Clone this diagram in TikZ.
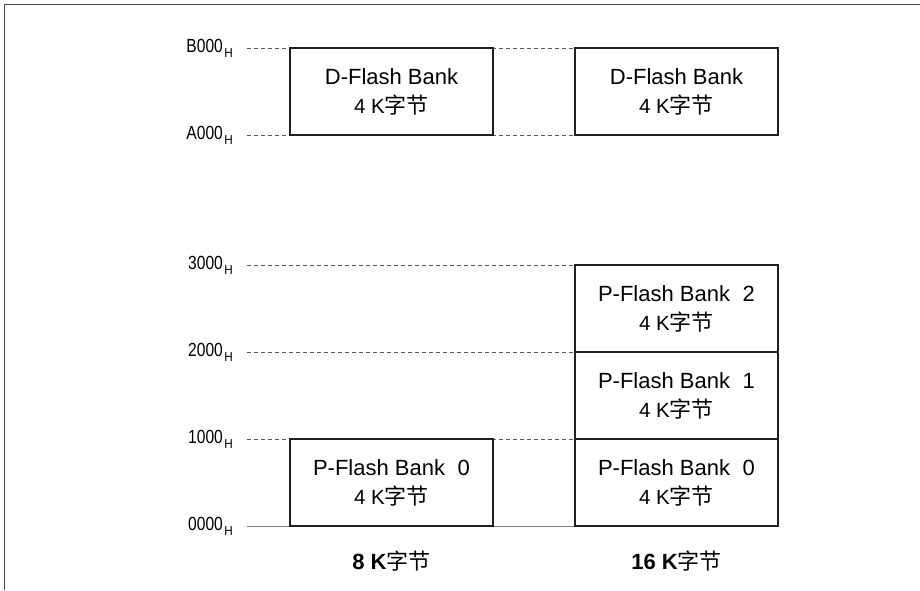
\documentclass[tikz,border=0pt]{standalone}
\usepackage{fontspec}
\setmainfont{Liberation Sans}
\newfontfamily\cjk{Noto Sans CJK SC}
\newcommand{\kzj}[1]{{\cjk\mdseries\fontsize{#1}{#1}\selectfont 字节}}
\newcommand{\addrlbl}[1]{\scalebox{0.82}[1]{\fontsize{19}{19}\selectfont #1}\hspace{1.5pt}\raisebox{-5.3pt}{\scalebox{0.9}[1]{\fontsize{13}{13}\selectfont H}}}
\newcommand{\sizeline}{{\fontsize{20.5}{25}\selectfont 4 K\kzj{22}}}
\begin{document}
\begin{tikzpicture}[x=1pt,y=-1pt,
  bank/.style={draw=black!88, line width=1.3pt, fill=white, minimum width=203pt,
    minimum height=87pt, inner sep=0pt, align=center,
    font=\fontsize{22}{25}\selectfont},
  guide/.style={draw=black!65, line width=0.9pt, dash pattern=on 4pt off 3pt},
  baseline/.style={draw=black!50, line width=1pt},
  frameline/.style={draw=black!70, line width=1.4pt},
  addr/.style={anchor=base east, inner sep=0pt},
  total/.style={anchor=base, inner sep=0pt, font=\fontsize{22}{22}\selectfont\bfseries}]
\useasboundingbox (0,0) rectangle (920,590);
% frame (left and top edges)
\coordinate (fbl) at (4.5,590);
\coordinate (ftl) at (4.5,4.5);
\coordinate (ftr) at (920,4.5);
\draw[frameline] (fbl) -- (ftl) -- (ftr);
% guide line end points
\foreach \n/\y in {b/48,a/135,t3/265,t2/352,t1/439,t0/526}{
  \coordinate (\n L) at (247,\y);
  \coordinate (\n R) at (575,\y);
}
\draw[guide] (bL) -- (bR);
\draw[guide] (aL) -- (aR);
\draw[guide] (t3L) -- (t3R);
\draw[guide] (t2L) -- (t2R);
\draw[guide] (t1L) -- (t1R);
\draw[baseline] (t0L) -- (t0R);
% address labels
\node[addr] (lb) at (233,52.5) {\addrlbl{B000}};
\node[addr] (la) at (233,139.5) {\addrlbl{A000}};
\node[addr] (l3) at (233,269.5) {\addrlbl{3000}};
\node[addr] (l2) at (233,356.5) {\addrlbl{2000}};
\node[addr] (l1) at (233,443.5) {\addrlbl{1000}};
\node[addr] (l0) at (233,530.5) {\addrlbl{0000}};
% banks, 8 K column
\node[bank] (dl) at (391.5,91.5) {D-Flash Bank\\[4pt]\sizeline};
\node[bank] (pl0) at (391.5,482.5) {P-Flash Bank\hspace{0.3em} 0\\[4pt]\sizeline};
% banks, 16 K column
\node[bank] (dr) at (676.5,91.5) {D-Flash Bank\\[4pt]\sizeline};
\node[bank] (pr2) at (676.5,308.5) {P-Flash Bank\hspace{0.3em} 2\\[4pt]\sizeline};
\node[bank] (pr1) at (676.5,395.5) {P-Flash Bank\hspace{0.3em} 1\\[4pt]\sizeline};
\node[bank] (pr0) at (676.5,482.5) {P-Flash Bank\hspace{0.3em} 0\\[4pt]\sizeline};
% totals
\node[total] (s8) at (391.5,569) {8 K\kzj{22}};
\node[total] (s16) at (676.5,569) {16 K\kzj{22}};
\end{tikzpicture}
\end{document}
